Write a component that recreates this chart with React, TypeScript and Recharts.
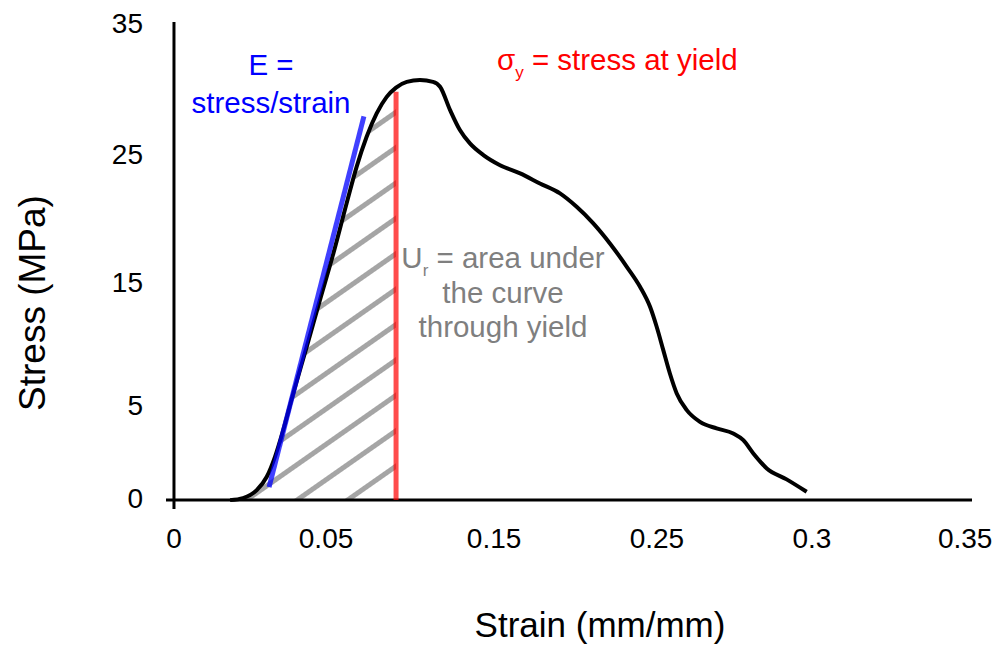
import { ComposedChart, Line, Area, XAxis, YAxis, ReferenceLine } from 'recharts';

const FONT = '"Liberation Sans", Arial, sans-serif';

// strain (mm/mm) and stress (MPa)
const strain = [0.0246, 0.0303, 0.0363, 0.0407, 0.0443, 0.0479, 0.0523, 0.0582, 0.064, 0.0699, 0.0757, 0.0801,
  0.0845, 0.0889, 0.0933, 0.0974, 0.1021, 0.1079, 0.1136, 0.1167, 0.1211, 0.1254, 0.1298, 0.1357, 0.143,
  0.1518, 0.1605, 0.1693, 0.1766, 0.1839, 0.1912, 0.1986, 0.2044, 0.2088, 0.2117, 0.2146, 0.2175, 0.2205,
  0.2249, 0.2307, 0.238, 0.2453, 0.2497, 0.2541, 0.26, 0.2687, 0.2775];
const stress = [0.0, 0.15, 0.73, 1.71, 3.17, 5.12, 7.81, 11.22, 14.64, 18.06, 21.72, 24.4,
  26.6, 28.31, 29.52, 30.2, 30.62, 30.75, 30.62, 30.26, 28.55, 27.09, 26.11, 25.26, 24.52,
  23.92, 23.18, 22.45, 21.47, 20.26, 18.79, 17.08, 15.62, 14.15, 12.69, 10.98, 9.27, 7.81,
  6.59, 5.73, 5.25, 4.88, 4.39, 3.42, 2.32, 1.52, 0.61];

const yieldStrain = 0.0974;
const yieldTop = 29.9;

// E line (tangent to elastic part)
const modulusStrain = [0.0417, 0.0833];
const modulusStress = [0.95, 28.1];

// tick labels, placed where they sit on the original
const xTickPos = [0, 0.0667, 0.1404, 0.2118, 0.2798, 0.347];
const xTickLabels = ['0', '0.05', '0.15', '0.25', '0.3', '0.35'];
const yTickPos = [0.16, 6.96, 15.97, 25.34, 34.93];
const yTickLabels = ['0', '5', '15', '25', '35'];

const data = strain.map((s, i) => ({
  strain: s,
  stress: stress[i],
  hatched: s <= yieldStrain + 1e-9 ? stress[i] : null,
}));

const tickStyle = { fill: '#000', fontSize: 28, fontFamily: FONT };
const subStyle = { fontSize: 17, position: 'relative' as const, top: 8, lineHeight: 0 };

export default function App() {
  return (
    <div style={{ position: 'absolute', left: 0, top: 0, width: 998, height: 647, background: '#fff', fontFamily: FONT }}>
      <ComposedChart width={998} height={647} data={data} margin={{ top: 22, right: 26, bottom: 98, left: 106 }}>
        <defs>
          <pattern id="hatch" patternUnits="userSpaceOnUse" x="0" y="14.5" width="12" height="29" patternTransform="rotate(-35)">
            <line x1="0" y1="14.5" x2="12" y2="14.5" stroke="#a5a5a5" strokeWidth={5} />
          </pattern>
        </defs>
        <XAxis
          dataKey="strain"
          type="number"
          domain={[-0.0035, 0.35]}
          allowDataOverflow
          ticks={xTickPos}
          interval={0}
          tickFormatter={(v) => xTickLabels[xTickPos.indexOf(v)] ?? ''}
          axisLine={false}
          tickLine={false}
          tickSize={0}
          tickMargin={19}
          height={40}
          tick={tickStyle}
        />
        <YAxis
          type="number"
          domain={[-0.65, 35]}
          allowDataOverflow
          ticks={yTickPos}
          interval={0}
          tickFormatter={(v) => yTickLabels[yTickPos.indexOf(v)] ?? ''}
          axisLine={false}
          tickLine={false}
          tickSize={0}
          tickMargin={23}
          width={60}
          tick={tickStyle}
        />
        <Area
          type="monotone"
          dataKey="hatched"
          baseValue={0}
          stroke="none"
          fill="url(#hatch)"
          fillOpacity={1}
          isAnimationActive={false}
        />
        <ReferenceLine x={0} stroke="#000" strokeWidth={3} />
        <ReferenceLine y={0} stroke="#000" strokeWidth={3} />
        <ReferenceLine
          segment={[{ x: yieldStrain, y: 0 }, { x: yieldStrain, y: yieldTop }]}
          stroke="#ff0000"
          strokeOpacity={0.7}
          strokeWidth={5}
        />
        <Line
          type="monotone"
          dataKey="stress"
          stroke="#000"
          strokeWidth={4}
          dot={false}
          isAnimationActive={false}
        />
        <ReferenceLine
          segment={[
            { x: modulusStrain[0], y: modulusStress[0] },
            { x: modulusStrain[1], y: modulusStress[1] },
          ]}
          stroke="#0000ff"
          strokeOpacity={0.75}
          strokeWidth={5}
        />
      </ComposedChart>

      {/* annotations */}
      <div style={{ position: 'absolute', left: 171, top: 46, width: 200, textAlign: 'center', color: '#0000ff', fontSize: 29.5, lineHeight: '38px' }}>
        E =<br />stress/strain
      </div>
      <div style={{ position: 'absolute', left: 497, top: 43, color: '#ff0000', fontSize: 29.5, lineHeight: '34px', whiteSpace: 'nowrap' }}>
        σ<span style={subStyle}>y</span> = stress at yield
      </div>
      <div style={{ position: 'absolute', left: 383, top: 241, width: 240, textAlign: 'center', color: '#7f7f7f', fontSize: 29.5, lineHeight: '34.5px' }}>
        U<span style={subStyle}>r</span> = area under<br />the curve<br />through yield
      </div>

      {/* axis titles */}
      <div style={{ position: 'absolute', left: 400, top: 605, width: 400, textAlign: 'center', fontSize: 35, lineHeight: '40px', color: '#000' }}>
        Strain (mm/mm)
      </div>
      <div style={{ position: 'absolute', left: 33, top: 303, width: 0, height: 0 }}>
        <div style={{ position: 'absolute', left: -150, top: -20, width: 300, textAlign: 'center', fontSize: 37, lineHeight: '40px', color: '#000', transform: 'rotate(-90deg)' }}>
          Stress (MPa)
        </div>
      </div>
    </div>
  );
}
